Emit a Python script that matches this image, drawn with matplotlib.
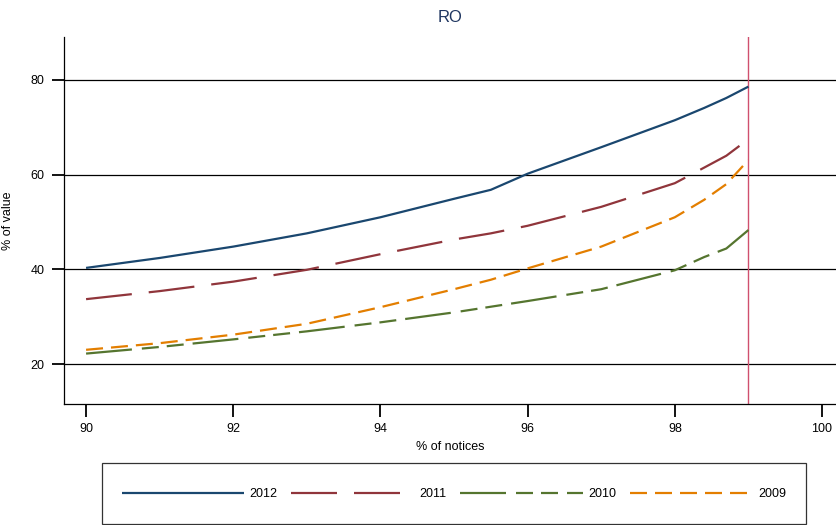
import matplotlib
matplotlib.use("Agg")
import matplotlib.pyplot as plt
from matplotlib.patches import Rectangle

plt.rcParams['font.family'] = ['Liberation Sans', 'DejaVu Sans']

x = [90, 91, 92, 93, 94, 95, 95.5, 96, 97, 98, 98.4, 98.7, 99]
y2012 = [40.3, 42.4, 44.8, 47.6, 51.0, 54.9, 56.8, 60.2, 65.8, 71.5, 74.1, 76.2, 78.6]
y2011 = [33.7, 35.4, 37.4, 39.9, 43.2, 46.3, 47.6, 49.2, 53.2, 58.2, 61.5, 64.0, 67.5]
y2010 = [22.2, 23.6, 25.2, 26.9, 28.8, 30.9, 32.1, 33.3, 35.8, 39.8, 42.6, 44.4, 48.3]
y2009 = [23.0, 24.4, 26.2, 28.5, 32.0, 35.8, 37.8, 40.2, 44.8, 51.0, 54.7, 58.0, 63.1]
xticks = [90, 92, 94, 96, 98, 100]
yticks = [20, 40, 60, 80]
vline_x = 99

fig = plt.figure(figsize=(8.36, 5.25), dpi=100)
ax = fig.add_axes([64/836, 1 - 404/525, 1 - 64/836, (404 - 37)/525])

lw = 1.6
def px_to_dash(seq):
    return [v * 0.72 / lw for v in seq]

ax.plot(x, y2012, color='#1a476f', lw=lw, label='2012', solid_capstyle='butt')
ax.plot(x, y2011, color='#90353b', lw=lw, label='2011',
        dashes=px_to_dash([46, 17]), dash_capstyle='butt')
ax.plot(x, y2010, color='#55752f', lw=lw, label='2010',
        dashes=px_to_dash([46, 10, 17, 8, 17, 9]), dash_capstyle='butt')
ax.plot(x, y2009, color='#e37e00', lw=lw, label='2009',
        dashes=px_to_dash([17, 8]), dash_capstyle='butt')

ax.axvline(vline_x, color='#d0506e', lw=1.0, zorder=1)

ax.set_xlim(89.70, 100.19)
ax.set_ylim(11.55, 89.08)
ax.set_xticks(xticks)
ax.set_yticks(yticks)
for yv in yticks:
    ax.axhline(yv, color='black', lw=0.9, zorder=0)

for s in ['top', 'right']:
    ax.spines[s].set_visible(False)
for s in ['left', 'bottom']:
    ax.spines[s].set_linewidth(0.9)
ax.tick_params(axis='both', direction='out', length=9, width=1.3, labelsize=9, pad=5)

ax.set_xlabel('% of notices', fontsize=9, labelpad=4)
ax.set_ylabel('% of value', fontsize=9)
ax.yaxis.set_label_coords((14 - 64) / 772, 0.5)
ax.set_title('RO', fontsize=12, color='#1e3560', pad=11)

# legend frame
fig.patches.append(Rectangle((102/836, 1 - 524/525), (806 - 102)/836, (524 - 463)/525,
                             transform=fig.transFigure, fill=False, edgecolor='#333333',
                             lw=0.9))
leg = fig.legend(loc='center', bbox_to_anchor=(454/836, 1 - 494/525), ncol=4,
                 frameon=False, fontsize=9, handlelength=9.8, handletextpad=0.45,
                 columnspacing=1.1)

fig.savefig('out.png', dpi=100)
